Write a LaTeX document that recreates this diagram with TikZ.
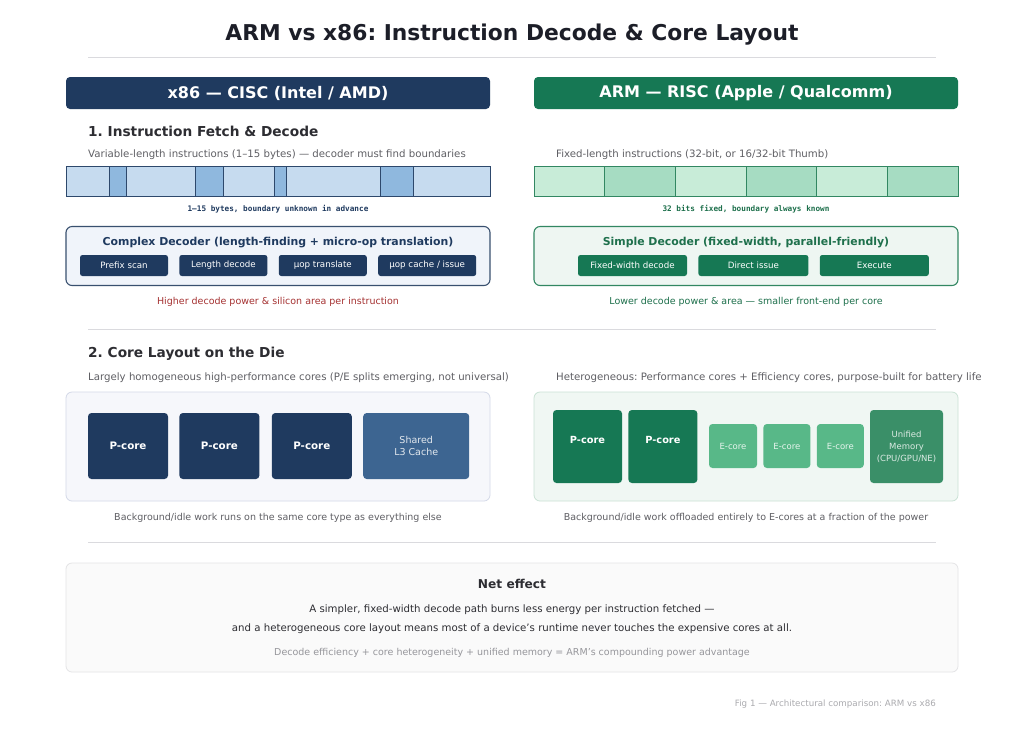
\documentclass[tikz,border=0pt]{standalone}
\usepackage{fontspec}
\setmainfont{DejaVu Sans}
\setmonofont{DejaVu Sans Mono}
\usetikzlibrary{positioning,calc}
\frenchspacing
\definecolor{titleink}{RGB}{28,30,40}
\definecolor{inkdark}{RGB}{45,45,50}
\definecolor{inkgray}{RGB}{95,95,100}
\definecolor{inklight}{RGB}{150,150,155}
\definecolor{rulegray}{RGB}{218,218,222}
\definecolor{x86navy}{RGB}{31,58,95}
\definecolor{x86segl}{RGB}{198,219,239}
\definecolor{x86segd}{RGB}{143,184,222}
\definecolor{x86edge}{RGB}{45,72,108}
\definecolor{x86dec}{RGB}{240,244,250}
\definecolor{x86die}{RGB}{246,247,251}
\definecolor{x86dieedge}{RGB}{212,217,232}
\definecolor{x86cache}{RGB}{61,101,145}
\definecolor{armgreen}{RGB}{22,120,84}
\definecolor{armsegl}{RGB}{200,236,216}
\definecolor{armsegd}{RGB}{166,220,194}
\definecolor{armedge}{RGB}{50,135,98}
\definecolor{armdec}{RGB}{238,246,242}
\definecolor{armdie}{RGB}{240,247,243}
\definecolor{armdieedge}{RGB}{202,226,213}
\definecolor{armecore}{RGB}{88,184,136}
\definecolor{armmem}{RGB}{58,143,104}
\definecolor{costred}{RGB}{165,50,50}
\definecolor{gaingreen}{RGB}{30,112,76}
\definecolor{netfill}{RGB}{250,250,250}
\definecolor{netedge}{RGB}{228,228,230}
\tikzset{
  headbar/.style={
    rectangle, rounded corners=4pt,
    minimum width=424pt, minimum height=32pt, inner sep=0pt,
    text=white, font=\fontsize{16}{19}\selectfont\bfseries
  },
  sechead/.style={
    anchor=west, inner sep=0pt, text=inkdark,
    font=\fontsize{13.7}{16}\selectfont\bfseries
  },
  subnote/.style={
    anchor=west, inner sep=0pt, text=inkgray,
    font=\fontsize{10.2}{12}\selectfont
  },
  footnote/.style={inner sep=0pt, font=\fontsize{9.5}{11}\selectfont},
  netline/.style={inner sep=0pt, font=\fontsize{10.2}{12}\selectfont},
  monolabel/.style={inner sep=0pt, font=\fontsize{7.7}{9}\selectfont\ttfamily\bfseries},
  decbox/.style={
    rectangle, rounded corners=6pt,
    minimum width=424pt, minimum height=59pt, inner sep=0pt, line width=1.1pt
  },
  dectitle/.style={inner sep=0pt, font=\fontsize{10.9}{13}\selectfont\bfseries},
  decstage/.style={
    rectangle, rounded corners=2.5pt,
    minimum height=21pt, inner sep=0pt,
    text=white, font=\fontsize{8.7}{10}\selectfont
  },
  diebox/.style={
    rectangle, rounded corners=6pt,
    minimum width=424pt, minimum height=109pt, inner sep=0pt, line width=0.8pt
  },
  corebox/.style={
    rectangle, rounded corners=3.5pt, inner sep=0pt, align=center,
    font=\fontsize{8.5}{12}\selectfont
  },
  pcorelbl/.style={inner sep=0pt, text=white, font=\fontsize{9.8}{11}\selectfont\bfseries},
}

\begin{document}
\begin{tikzpicture}[x=1pt, y=-1pt]
\useasboundingbox (0,0) rectangle (1024,732);
\fill[white] (0,0) rectangle (1024,732);

%% -- Title ---------------------------------------------------------------
\node[text=titleink, font=\fontsize{21.8}{26}\selectfont\bfseries] (title) at (512,35)
  {ARM vs x86: Instruction Decode \& Core Layout};
\draw[rulegray, line width=1pt] (88,57) -- (936,57);

%% -- Column headers ------------------------------------------------------
\node[headbar, fill=x86navy] (x86head) at (278,93) {x86 — CISC (Intel / AMD)};
\node[headbar, fill=armgreen] (armhead) at (746,93) {ARM — RISC (Apple / Qualcomm)};

%% -- 1. Fetch & decode ---------------------------------------------------
\node[sechead] (fetchhead) at (88,131) {1. Instruction Fetch \& Decode};
\node[subnote] (x86fetch) at (88,155)
  {Variable-length instructions (1–15 bytes) — decoder must find boundaries};
\node[subnote] (armfetch) at (556,155)
  {Fixed-length instructions (32-bit, or 16/32-bit Thumb)};

% instruction streams
\foreach \a/\b/\c in {66/109/x86segl, 109/126/x86segd, 126/195/x86segl,
                      195/223/x86segd, 223/274/x86segl, 274/286/x86segd,
                      286/380/x86segl, 380/413/x86segd, 413/490/x86segl}
  \filldraw[fill=\c, draw=x86edge, line width=1pt] (\a,166) rectangle (\b,196);
\foreach \a/\b/\c in {534/604.7/armsegl, 604.7/675.3/armsegd, 675.3/746/armsegl,
                      746/816.7/armsegd, 816.7/887.3/armsegl, 887.3/958/armsegd}
  \filldraw[fill=\c, draw=armedge, line width=1pt] (\a,166) rectangle (\b,196);

\node[monolabel, text=x86navy] (x86bytes) at (278,209) {1–15 bytes, boundary unknown in advance};
\node[monolabel, text=gaingreen] (armbits) at (746,209) {32 bits fixed, boundary always known};

% decoders
\node[decbox, fill=x86dec, draw=x86edge!85!gray] (cisc) at (278,256) {};
\node[dectitle, text=x86navy, below=11pt of cisc.north] (ciscname)
  {Complex Decoder (length-finding + micro-op translation)};
\node[decstage, fill=x86navy, minimum width=88pt] (prefix) at (124,265.5) {Prefix scan};
\node[decstage, fill=x86navy, minimum width=88pt, right=11pt of prefix] (lendec) {Length decode};
\node[decstage, fill=x86navy, minimum width=88pt, right=11pt of lendec] (uoptr) {µop translate};
\node[decstage, fill=x86navy, minimum width=98pt, right=11pt of uoptr] (uopc) {µop cache / issue};

\node[decbox, fill=armdec, draw=armedge] (risc) at (746,256) {};
\node[dectitle, text=gaingreen, below=11pt of risc.north] (riscname)
  {Simple Decoder (fixed-width, parallel-friendly)};
\node[decstage, fill=armgreen, minimum width=109pt] (fixdec) at (632.5,265.5) {Fixed-width decode};
\node[decstage, fill=armgreen, minimum width=110pt, right=11pt of fixdec] (direct) {Direct issue};
\node[decstage, fill=armgreen, minimum width=109pt, right=11pt of direct] (exec) {Execute};

\node[footnote, text=costred] (x86cost) at (278,302)
  {Higher decode power \& silicon area per instruction};
\node[footnote, text=gaingreen] (armgain) at (746,302)
  {Lower decode power \& area — smaller front-end per core};

\draw[rulegray, line width=1pt] (88,329) -- (936,329);

%% -- 2. Core layout ------------------------------------------------------
\node[sechead] (layouthead) at (88,354) {2. Core Layout on the Die};
\node[subnote] (x86mix) at (88,378)
  {Largely homogeneous high-performance cores (P/E splits emerging, not universal)};
\node[subnote] (armmix) at (556,378)
  {Heterogeneous: Performance cores + Efficiency cores, purpose-built for battery life};

\node[diebox, fill=x86die, draw=x86dieedge] (x86die) at (278,446.5) {};
\node[corebox, fill=x86navy, minimum width=80pt, minimum height=66pt,
      text=white, font=\fontsize{10.3}{12}\selectfont\bfseries] (xp1) at (128,446) {P-core};
\node[corebox, fill=x86navy, minimum width=80pt, minimum height=66pt,
      text=white, font=\fontsize{10.3}{12}\selectfont\bfseries, right=11pt of xp1] (xp2) {P-core};
\node[corebox, fill=x86navy, minimum width=80pt, minimum height=66pt,
      text=white, font=\fontsize{10.3}{12}\selectfont\bfseries, right=12pt of xp2] (xp3) {P-core};
\node[corebox, fill=x86cache, minimum width=106pt, minimum height=66pt,
      text=white!85!x86cache, font=\fontsize{9.5}{12}\selectfont, right=11pt of xp3] (l3) {Shared\\L3 Cache};

\node[diebox, fill=armdie, draw=armdieedge] (armdie) at (746,446.5) {};
\node[corebox, fill=armgreen, minimum width=69pt, minimum height=73pt,
      label={[pcorelbl, yshift=7pt]center:P-core}] (ap1) at (587.5,446.5) {};
\node[corebox, fill=armgreen, minimum width=69pt, minimum height=73pt,
      label={[pcorelbl, yshift=7pt]center:P-core}, right=6pt of ap1] (ap2) {};
\node[corebox, fill=armecore, minimum width=48pt, minimum height=44pt,
      text=white!85!armecore] (ae1) at (733,446) {E-core};
\node[corebox, fill=armecore, minimum width=47pt, minimum height=44pt,
      text=white!85!armecore, right=6pt of ae1] (ae2) {E-core};
\node[corebox, fill=armecore, minimum width=47pt, minimum height=44pt,
      text=white!85!armecore, right=6pt of ae2] (ae3) {E-core};
\node[corebox, fill=armmem, minimum width=73pt, minimum height=73pt,
      text=white!82!armmem] (umem) at (906.5,446.5) {Unified\\Memory\\(CPU/GPU/NE)};

\node[footnote, text=inkgray] (x86idle) at (278,518)
  {Background/idle work runs on the same core type as everything else};
\node[footnote, text=inkgray] (armidle) at (746,518)
  {Background/idle work offloaded entirely to E-cores at a fraction of the power};

\draw[rulegray, line width=1pt] (88,542) -- (936,542);

%% -- Net effect ----------------------------------------------------------
\node[rectangle, rounded corners=6pt, fill=netfill, draw=netedge, line width=0.8pt,
      minimum width=892pt, minimum height=109pt] (net) at (512,617.5) {};
\node[inner sep=0pt, text=inkdark, font=\fontsize{12.2}{14}\selectfont\bfseries,
      below=16pt of net.north] (netname) {Net effect};
\node[netline, text=inkdark] (netl1) at (512,610)
  {A simpler, fixed-width decode path burns less energy per instruction fetched —};
\node[netline, text=inkdark] (netl2) at (512,629)
  {and a heterogeneous core layout means most of a device's runtime never touches the expensive cores at all.};
\node[netline, text=inklight, font=\fontsize{9.5}{11}\selectfont] (netl3) at (512,653)
  {Decode efficiency + core heterogeneity + unified memory = ARM's compounding power advantage};

\node[inner sep=0pt, anchor=east, text=inklight!80, font=\fontsize{8.7}{10}\selectfont] (figcap) at (936,704)
  {Fig 1 — Architectural comparison: ARM vs x86};

\end{tikzpicture}
\end{document}
